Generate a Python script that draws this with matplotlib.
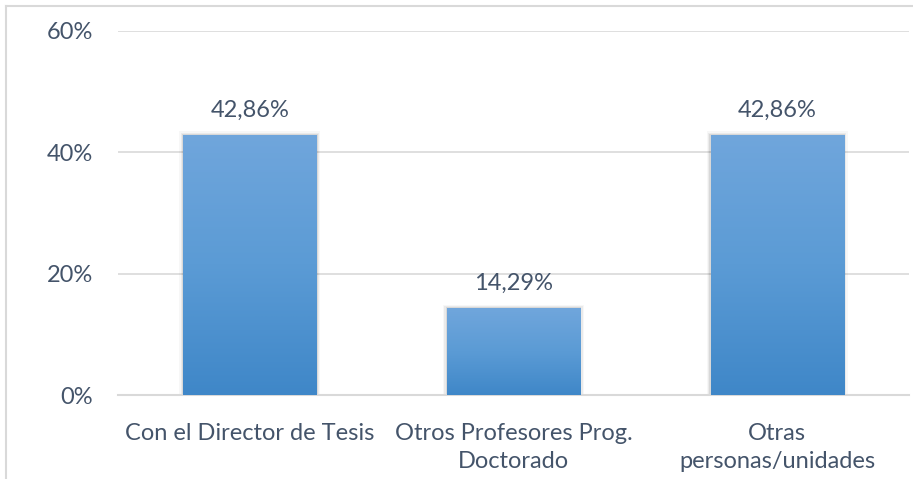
import matplotlib
matplotlib.use("Agg")
import matplotlib.pyplot as plt
import numpy as np
from matplotlib.colors import LinearSegmentedColormap
from matplotlib.lines import Line2D

categories = ["Con el Director de Tesis", "Otros Profesores Prog.\nDoctorado", "Otras\npersonas/unidades"]
values = [42.86, 14.29, 42.86]
value_labels = ["42,86%", "14,29%", "42,86%"]
yticks = [0, 20, 40, 60]
ytick_labels = ["0%", "20%", "40%", "60%"]

plt.rcParams['font.family'] = ['Lato', 'DejaVu Sans']
text_color = "#44546a"
grid_color = "#d9d9d9"
fs = 17

fig = plt.figure(figsize=(9.13, 4.79), dpi=100)
ax = fig.add_axes([118/913, 1-395/479, (909-118)/913, (395-31)/479])

x = np.arange(len(categories))
bars = ax.bar(x, values, width=0.505, color="#5b9bd5", zorder=3)

cmap = LinearSegmentedColormap.from_list("g", ["#3f87c8", "#5b9bd5", "#70a6dc"])
grad = np.linspace(0, 1, 256).reshape(-1, 1)
for b in bars:
    x0, y0 = b.get_x(), b.get_y()
    w, h = b.get_width(), b.get_height()
    # soft shadow
    for i, a in enumerate([0.08, 0.05, 0.03]):
        d = 0.005 * (i + 1)
        ax.add_patch(plt.Rectangle((x0 - d, y0), w + 2 * d, h + 0.2 * (i + 1),
                                   color="black", alpha=a, lw=0, zorder=2))
    im = ax.imshow(grad, cmap=cmap, aspect="auto", origin="lower",
                   extent=(x0, x0 + w, y0, y0 + h), zorder=4)
    im.set_clip_path(b)

for xi, v, lab in zip(x, values, value_labels):
    ax.text(xi, v + 2.4, lab, ha="center", va="bottom", fontsize=fs, color=text_color)

ax.set_xlim(-0.5, 2.5)
ax.set_ylim(0, 60)
ax.set_yticks(yticks)
ax.set_yticklabels(ytick_labels, fontsize=fs, color=text_color)
ax.set_xticks(x)
ax.set_xticklabels(categories, fontsize=fs, color=text_color, linespacing=1.45)
ax.tick_params(axis="both", length=0)
ax.tick_params(axis="y", pad=18)
ax.tick_params(axis="x", pad=20)
ax.grid(axis="y", color=grid_color, lw=1.2, zorder=0)
for s in ["top", "right", "left"]:
    ax.spines[s].set_visible(False)
ax.spines["bottom"].set_color(grid_color)
ax.spines["bottom"].set_linewidth(1.5)
ax.set_axisbelow(True)

# chart border
fig.add_artist(Line2D([6/913, 6/913], [0, 1 - 6/479], color=grid_color, lw=1.5, transform=fig.transFigure))
fig.add_artist(Line2D([6/913, 1], [1 - 6/479, 1 - 6/479], color=grid_color, lw=1.5, transform=fig.transFigure))

fig.savefig("out.png", dpi=100)
